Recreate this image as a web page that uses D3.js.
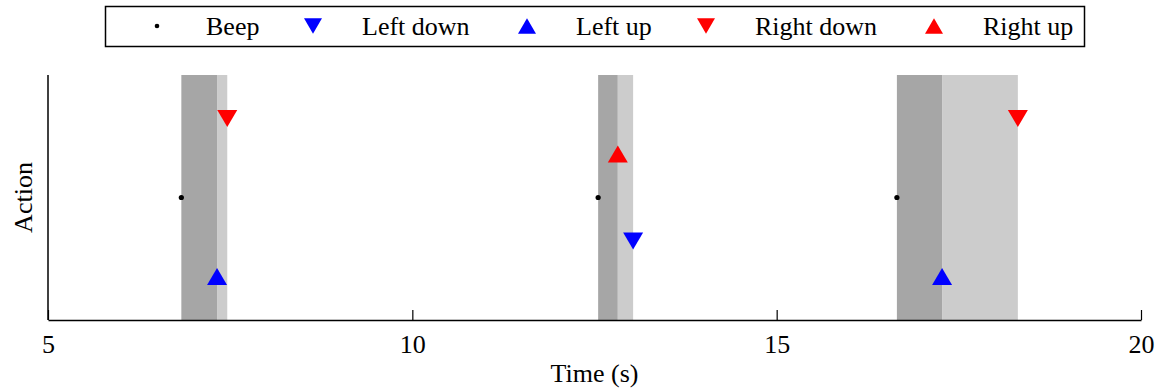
<!DOCTYPE html>
<html>
<head>
<meta charset="utf-8">
<script src="https://cdn.jsdelivr.net/npm/d3@7"></script>
<style>
  body { margin: 0; background: #fff; }
  text { font-family: "Liberation Serif", "Times New Roman", serif; fill: #000; }
</style>
</head>
<body>
<div id="chart"></div>
<script>
// action levels on the y axis
var actions = ["Left up", "Left down", "Beep", "Right up", "Right down"];
var levels = [1, 1.9, 3, 4.1, 5];

// three trials: beep time, then action events (seconds)
var beepTimes = [6.83, 12.55, 16.65];
var firstActionTimes = [7.32, 12.82, 17.27];
var secondActionTimes = [7.46, 13.03, 18.31];

// events: time + action name
var eventTimes = [6.83, 7.32, 7.46, 12.55, 12.82, 13.03, 16.65, 17.27, 18.31];
var eventNames = ["Beep", "Left up", "Right down", "Beep", "Right up", "Left down", "Beep", "Left up", "Right down"];

var xTicks = [5, 10, 15, 20];

// legend order
var legendNames = ["Beep", "Left down", "Left up", "Right down", "Right up"];
var legendX = [157, 313, 527, 706, 934];

var W = 1166, H = 390;
var margin = {left: 48, right: 25, top: 75, bottom: 70};

var svg = d3.select("#chart").append("svg")
    .attr("width", W)
    .attr("height", H);

var x = d3.scaleLinear().domain([5, 20]).range([margin.left, W - margin.right]);
var y = d3.scaleLinear().domain([-0.1, 6.1]).range([H - margin.bottom, margin.top]);

var markerStyle = {
    "Beep": {color: "#000", shape: "dot"},
    "Left down": {color: "#0000ff", shape: "down"},
    "Left up": {color: "#0000ff", shape: "up"},
    "Right down": {color: "#ff0000", shape: "down"},
    "Right up": {color: "#ff0000", shape: "up"}
};

function levelOf(name) {
    return levels[actions.indexOf(name)];
}

function triPath(shape) {
    var w = 10, h = 8.5;
    if (shape == "up") return "M0," + (-h) + "L" + w + "," + h + "L" + (-w) + "," + h + "Z";
    return "M" + (-w) + "," + (-h) + "L" + w + "," + (-h) + "L0," + h + "Z";
}

// shaded bands
var bands = svg.append("g");
for (var i = 0; i < beepTimes.length; i++) {
    bands.append("rect")
        .attr("x", x(beepTimes[i]))
        .attr("y", margin.top)
        .attr("width", x(firstActionTimes[i]) - x(beepTimes[i]))
        .attr("height", H - margin.bottom - margin.top)
        .attr("fill", "#a6a6a6");
    bands.append("rect")
        .attr("x", x(firstActionTimes[i]))
        .attr("y", margin.top)
        .attr("width", x(secondActionTimes[i]) - x(firstActionTimes[i]))
        .attr("height", H - margin.bottom - margin.top)
        .attr("fill", "#cccccc");
}

// axes
var xAxis = d3.axisBottom(x).tickValues(xTicks).tickSizeInner(-10).tickSizeOuter(0).tickPadding(15);
var gx = svg.append("g")
    .attr("transform", "translate(0," + (H - margin.bottom) + ")")
    .call(xAxis);
gx.select(".domain").attr("stroke", "#000").attr("stroke-width", 1.5);
gx.selectAll(".tick line").attr("stroke", "#000").attr("stroke-width", 1.2);
gx.selectAll(".tick text").style("font-size", "26px").attr("fill", "#000")
    .attr("font-family", "Liberation Serif");

svg.append("line")
    .attr("x1", margin.left).attr("x2", margin.left)
    .attr("y1", margin.top).attr("y2", H - margin.bottom)
    .attr("stroke", "#000").attr("stroke-width", 1.5);

// axis labels
svg.append("text")
    .attr("x", x(12.5))
    .attr("y", 382)
    .attr("text-anchor", "middle")
    .style("font-size", "26px")
    .text("Time (s)");

svg.append("text")
    .attr("transform", "translate(32," + y(3) + ") rotate(-90)")
    .attr("text-anchor", "middle")
    .style("font-size", "26px")
    .text("Action");

// markers
var marks = svg.append("g");
eventTimes.forEach(function (t, k) {
    var name = eventNames[k];
    var st = markerStyle[name];
    if (st.shape == "dot") {
        marks.append("circle")
            .attr("cx", x(t)).attr("cy", y(levelOf(name)))
            .attr("r", 2.6).attr("fill", st.color);
    } else {
        marks.append("path")
            .attr("d", triPath(st.shape))
            .attr("transform", "translate(" + x(t) + "," + y(levelOf(name)) + ")")
            .attr("fill", st.color);
    }
});

// legend
var leg = svg.append("g");
leg.append("rect")
    .attr("x", 105.5).attr("y", 6.5)
    .attr("width", 979).attr("height", 40)
    .attr("fill", "#fff").attr("stroke", "#000").attr("stroke-width", 1.5);
legendNames.forEach(function (name, k) {
    var st = markerStyle[name];
    if (st.shape == "dot") {
        leg.append("circle").attr("cx", legendX[k]).attr("cy", 26).attr("r", 2.3).attr("fill", st.color);
    } else {
        leg.append("path")
            .attr("d", triPath(st.shape))
            .attr("transform", "translate(" + legendX[k] + ",26) scale(0.9)")
            .attr("fill", st.color);
    }
    leg.append("text")
        .attr("x", legendX[k] + 49)
        .attr("y", 35)
        .style("font-size", "26px")
        .text(name);
});
</script>
</body>
</html>
